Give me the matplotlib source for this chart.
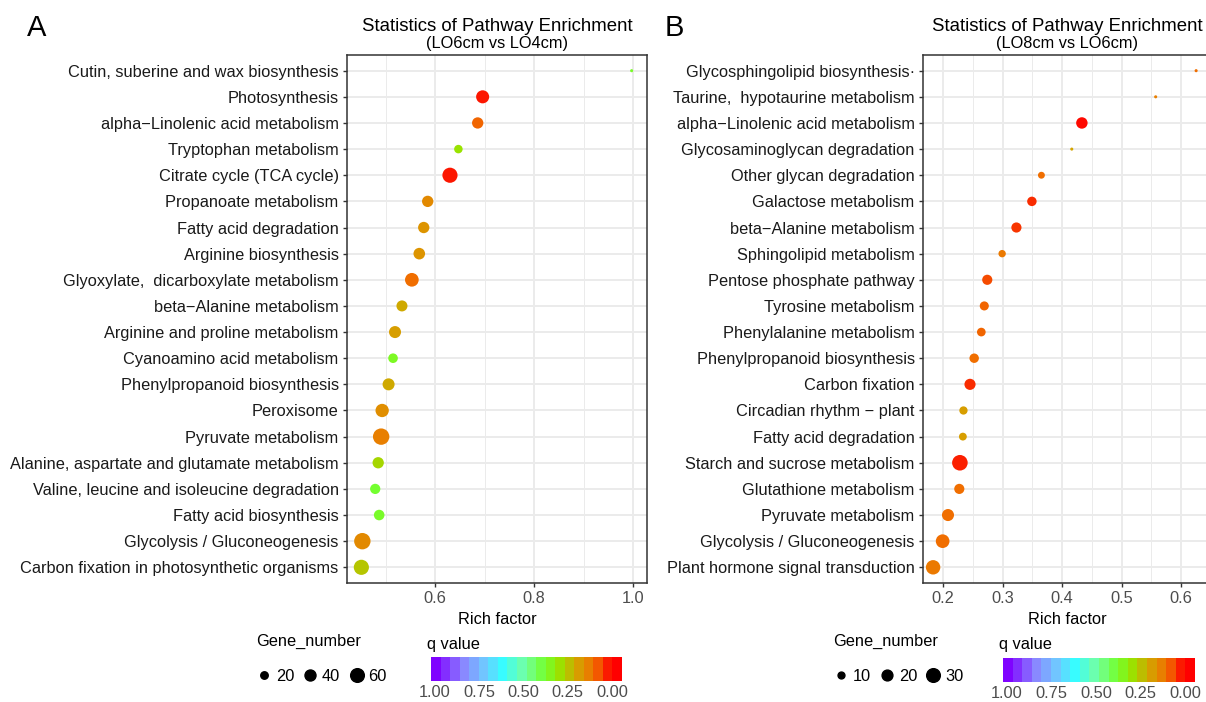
import numpy as np
import matplotlib
matplotlib.use("Agg")
import matplotlib.pyplot as plt
from matplotlib.colors import LinearSegmentedColormap, Normalize
from matplotlib.lines import Line2D

plt.rcParams['font.family'] = ['Liberation Sans', 'DejaVu Sans']

# ---- panel A (LO6cm vs LO4cm), listed top to bottom ----
pathways_a = [
    "Cutin, suberine and wax biosynthesis", "Photosynthesis",
    "alpha\u2212Linolenic acid metabolism", "Tryptophan metabolism",
    "Citrate cycle (TCA cycle)", "Propanoate metabolism",
    "Fatty acid degradation", "Arginine biosynthesis",
    "Glyoxylate,  dicarboxylate metabolism", "beta\u2212Alanine metabolism",
    "Arginine and proline metabolism", "Cyanoamino acid metabolism",
    "Phenylpropanoid biosynthesis", "Peroxisome", "Pyruvate metabolism",
    "Alanine, aspartate and glutamate metabolism",
    "Valine, leucine and isoleucine degradation", "Fatty acid biosynthesis",
    "Glycolysis / Gluconeogenesis", "Carbon fixation in photosynthetic organisms",
]
rich_a = [0.997, 0.696, 0.686, 0.647, 0.630, 0.585, 0.577, 0.568, 0.553, 0.533,
          0.519, 0.515, 0.506, 0.493, 0.491, 0.485, 0.479, 0.487, 0.453, 0.451]
genes_a = [1, 55, 42, 25, 73, 42, 42, 44, 60, 40, 47, 31, 47, 57, 85, 42, 35, 37, 85, 73]
qval_a = [0.37, 0.02, 0.09, 0.30, 0.02, 0.15, 0.17, 0.17, 0.10, 0.21,
          0.19, 0.36, 0.21, 0.16, 0.13, 0.28, 0.38, 0.37, 0.15, 0.25]

# ---- panel B (LO8cm vs LO6cm) ----
pathways_b = [
    "Glycosphingolipid biosynthesis\u00b7", "Taurine,  hypotaurine metabolism",
    "alpha\u2212Linolenic acid metabolism", "Glycosaminoglycan degradation",
    "Other glycan degradation", "Galactose metabolism",
    "beta\u2212Alanine metabolism", "Sphingolipid metabolism",
    "Pentose phosphate pathway", "Tyrosine metabolism",
    "Phenylalanine metabolism", "Phenylpropanoid biosynthesis",
    "Carbon fixation", "Circadian rhythm \u2212 plant", "Fatty acid degradation",
    "Starch and sucrose metabolism", "Glutathione metabolism",
    "Pyruvate metabolism", "Glycolysis / Gluconeogenesis",
    "Plant hormone signal transduction",
]
rich_b = [0.625, 0.557, 0.433, 0.416, 0.365, 0.349, 0.323, 0.299, 0.274, 0.269,
          0.264, 0.252, 0.245, 0.234, 0.233, 0.228, 0.227, 0.208, 0.199, 0.183]
genes_b = [1, 1, 22, 1, 10, 16, 18, 11, 18, 15, 14, 16, 21, 13, 12, 38, 18, 24, 30, 33]
qval_b = [0.10, 0.13, 0.01, 0.20, 0.10, 0.04, 0.05, 0.12, 0.07, 0.09,
          0.09, 0.10, 0.04, 0.19, 0.19, 0.03, 0.10, 0.10, 0.10, 0.12]

size_breaks_a = [20, 40, 60]
size_breaks_b = [10, 20, 30]
q_ticks = [1.00, 0.75, 0.50, 0.25, 0.00]

# q value colours: 0 -> red ... 1 -> purple
qcmap = LinearSegmentedColormap.from_list("qv", [
    (0.00, "#ff0000"), (0.10, "#f07000"), (0.20, "#d4a400"),
    (0.30, "#98e400"), (0.38, "#74ff30"), (0.50, "#70ffa8"),
    (0.62, "#38fcff"), (0.72, "#70c8ff"), (0.84, "#8a86ff"),
    (1.00, "#7f00ff")])
qnorm = Normalize(0, 1)

W, H = 1206, 702
fig = plt.figure(figsize=(W / 100, H / 100), dpi=100)
FS = 11.8


def px_rect(x0, y0, x1, y1):
    return [x0 / W, 1 - y1 / H, (x1 - x0) / W, (y1 - y0) / H]


def dot_diam(n, a, b):
    # marker diameter in points
    return np.sqrt(np.maximum(a * np.asarray(n, float) - b, 9.0)) * 0.74


def panel(rect, names, rich, genes, qv, xlim, major, minor, fmt, sz):
    ax = fig.add_axes(rect)
    y = np.arange(len(names), 0, -1)
    d = dot_diam(genes, *sz)
    ax.scatter(rich, y, s=d ** 2, c=qv, cmap=qcmap, norm=qnorm,
               edgecolors='none', zorder=3)
    ax.set_xlim(*xlim)
    ax.set_ylim(0.4, len(names) + 0.6)
    ax.set_yticks(y)
    ax.set_yticklabels(names, fontsize=FS, color='#1a1a1a')
    ax.set_xticks(major)
    ax.set_xticklabels([fmt % v for v in major], fontsize=FS, color='#4d4d4d')
    ax.set_xticks(minor, minor=True)
    ax.grid(which='major', color='#ebebeb', lw=1.4)
    ax.grid(which='minor', axis='x', color='#ebebeb', lw=0.7)
    ax.set_axisbelow(True)
    ax.tick_params(which='major', length=3, width=1, color='#333333', pad=3)
    ax.tick_params(which='minor', length=0)
    for s in ax.spines.values():
        s.set_color('#333333')
        s.set_linewidth(1.1)
    ax.set_xlabel("Rich factor", fontsize=FS, labelpad=4)
    return ax


def titles(cx, sub):
    fig.text(cx / W, 1 - 31 / H, "Statistics of Pathway Enrichment",
             ha='center', va='baseline', fontsize=13.4)
    fig.text(cx / W, 1 - 48 / H, sub, ha='center', va='baseline', fontsize=11.8)


def size_legend(x, y, breaks, sz):
    handles = [Line2D([], [], marker='o', ls='', color='black',
                      markersize=float(dot_diam(v, *sz))) for v in breaks]
    fig.legend(handles, [str(v) for v in breaks], ncol=3, title="Gene_number",
               loc='upper left', bbox_to_anchor=(x / W, 1 - y / H),
               frameon=False, fontsize=FS, title_fontsize=FS, alignment='left',
               handletextpad=0.2, columnspacing=0.5, borderpad=0,
               borderaxespad=0, handlelength=1.0, labelspacing=1.2)


def q_bar(x0, x1, y0, y1):
    fig.text((x0 - 4) / W, 1 - 644 / H, "q value", fontsize=FS, va='center')
    cax = fig.add_axes(px_rect(x0, y0, x1, y1))
    lo, hi = 1.0226, -0.0565
    edges = np.linspace(lo, hi, 21)
    centers = np.clip((edges[:-1] + edges[1:]) / 2, 0, 1)
    cax.pcolormesh(edges, [0, 1], centers[None, :], cmap=qcmap, norm=qnorm)
    cax.set_xlim(lo, hi)
    cax.set_ylim(0, 1)
    cax.set_yticks([])
    cax.set_xticks(q_ticks)
    cax.set_xticklabels(["%.2f" % v for v in q_ticks], fontsize=FS, color='#4d4d4d')
    cax.tick_params(axis='x', length=0, pad=3)
    for s in cax.spines.values():
        s.set_visible(False)


size_a = (3.1, 9.0)
size_b = (6.6, 21.0)

panel(px_rect(347, 55, 647, 583), pathways_a, rich_a, genes_a, qval_a,
      (0.422, 1.028), [0.6, 0.8, 1.0], [0.5, 0.7, 0.9], "%.1f", size_a)
panel(px_rect(923, 55, 1211, 583), pathways_b, rich_b, genes_b, qval_b,
      (0.166, 0.645), [0.2, 0.3, 0.4, 0.5, 0.6], [0.25, 0.35, 0.45, 0.55, 0.65],
      "%.1f", size_b)

titles(497, "(LO6cm vs LO4cm)")
titles(1067, "(LO8cm vs LO6cm)")

fig.text(27 / W, 1 - 36 / H, "A", fontsize=21, va='baseline')
fig.text(665 / W, 1 - 36 / H, "B", fontsize=21, va='baseline')

size_legend(256, 634, size_breaks_a, size_a)
size_legend(833, 634, size_breaks_b, size_b)
q_bar(431, 622, 657, 681)
q_bar(1003, 1195, 658, 682)

fig.savefig("out.png", dpi=100)
